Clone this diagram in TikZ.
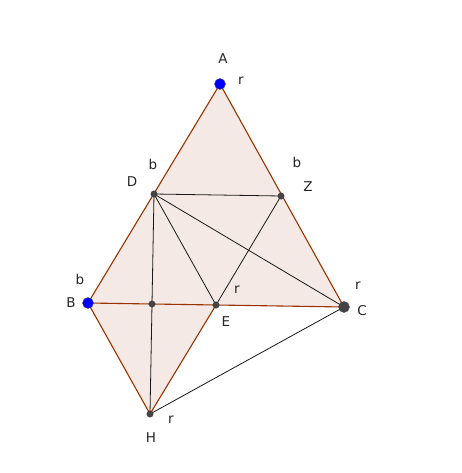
\documentclass[tikz,border=0pt]{standalone}
\usepackage{fontspec}
\setmainfont{DejaVu Sans}
\usetikzlibrary{calc}
\definecolor{triedge}{RGB}{153,51,0}
\definecolor{trifill}{RGB}{244,233,228}
\definecolor{ptblue}{RGB}{0,0,255}
\definecolor{ptgray}{RGB}{68,68,68}
\tikzset{
  bigpt/.style={circle,fill=#1,draw=black!70,line width=0.4pt,inner sep=0pt,minimum size=11pt},
  smallpt/.style={circle,fill=ptgray,draw=black!80,line width=0.3pt,inner sep=0pt,minimum size=6.5pt},
  side/.style={draw=triedge,line width=1.1pt},
  seg/.style={draw=black!90,line width=0.8pt},
  lbl/.style={font=\fontsize{13.5}{15}\selectfont,text=black!85,inner sep=0pt}
}
\begin{document}
\begin{tikzpicture}[x=1pt,y=-1pt]
			\useasboundingbox (0,0) rectangle (462,473);
			\coordinate (A) at (220,84);
			\coordinate (B) at (88,303);
			\coordinate (C) at (344,307);
			\coordinate (D) at (154,194);
			\coordinate (Z) at (281,196);
			\coordinate (E) at (216,305);
			\coordinate (H) at (150,414);
			\coordinate (M) at (intersection of D--H and B--C);
			%
			\fill[trifill] (A) -- (B) -- (C) -- cycle;
			\fill[trifill] (B) -- (E) -- (H) -- cycle;
			\draw[seg] (D) -- (Z);
			\draw[seg] (D) -- (H);
			\draw[seg] (D) -- (E);
			\draw[seg] (D) -- (C);
			\draw[seg] (Z) -- (E);
			\draw[seg] (H) -- (C);
			\draw[side] (A) -- (B) -- (C) -- cycle;
			\draw[side] (B) -- (H) -- (E);
			%
			\node[smallpt] (pD) at (D) {};
			\node[smallpt] (pZ) at (Z) {};
			\node[smallpt] (pE) at (E) {};
			\node[smallpt] (pM) at (M) {};
			\node[smallpt] (pH) at (H) {};
			\node[bigpt=ptblue] (pA) at (A) {};
			\node[bigpt=ptblue] (pB) at (B) {};
			\node[bigpt=ptgray] (pC) at (C) {};
			%
			\node[lbl] (lA) at (223,59) {A};
			\node[lbl] (cA) at (241,81) {r};
			\node[lbl] (lD) at (132,182) {D};
			\node[lbl] (cD) at (153,164) {b};
			\node[lbl] (lZ) at (308,187) {Z};
			\node[lbl] (cZ) at (297,162) {b};
			\node[lbl] (lB) at (71,303) {B};
			\node[lbl] (cB) at (80,279) {b};
			\node[lbl] (lC) at (362,311) {C};
			\node[lbl] (cC) at (358,286) {r};
			\node[lbl] (lE) at (226,322) {E};
			\node[lbl] (cE) at (237,290) {r};
			\node[lbl] (lH) at (151,438) {H};
			\node[lbl] (cH) at (171,420) {r};
		\end{tikzpicture}
\end{document}
